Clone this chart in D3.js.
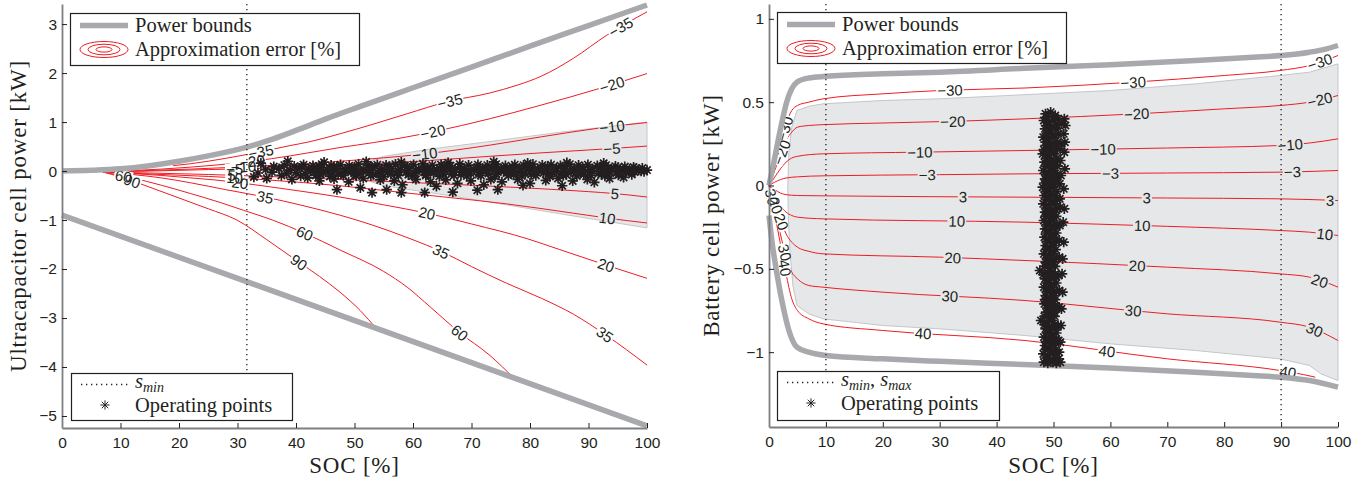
<!DOCTYPE html>
<html>
<head>
<meta charset="utf-8">
<script src="https://cdn.jsdelivr.net/npm/d3@7"></script>
<style>
  body { margin: 0; background: #fff; }
  svg { display: block; }
</style>
</head>
<body>
<svg id="chart" width="1370" height="486"></svg>
<script>
// ---- shared ticks ----
const socTicks = [0, 10, 20, 30, 40, 50, 60, 70, 80, 90, 100];
const ucapTicks = [-5, -4, -3, -2, -1, 0, 1, 2, 3];
const battTicks = [-1, -0.5, 0, 0.5, 1];

// ---- ultracapacitor panel (SOC %, kW) ----
const ucapUpperBound = [[0,0],[5,0.015],[10,0.045],[15,0.11],[20,0.2],[25,0.31],[31.6,0.49],[36,0.65],[40.7,0.86],[45,1.06],[51,1.32],[60,1.7],[70,2.12],[80,2.55],[90,2.97],[100,3.39]];
const ucapLowerBound = [[0,-0.9],[100,-5.2]];
const ucapShade = [[48,0.02],[55,0.3],[63,0.45],[73,0.6],[85,0.79],[100,1.0],[100,-1.16],[85,-0.87],[72,-0.61],[63.4,-0.45],[55,-0.3],[48,-0.04]];
const ucapSmin = 31.6;

const ucapErrM35 = [[19,0.11],[22,0.15],[28,0.26],[33.8,0.39],[39,0.52],[42.4,0.6],[47.5,0.76],[53,0.95],[59,1.17],[66,1.42],[73,1.59],[78,1.76],[82,1.94],[87.4,2.3],[93.2,2.78],[100,3.25]];
const ucapErrM20 = [[7,-0.02],[12,0.01],[17,0.04],[22,0.08],[27,0.13],[32.6,0.2],[39,0.31],[47.5,0.48],[53.2,0.58],[63.4,0.8],[73.2,1.07],[81.7,1.34],[92,1.69],[100,1.99]];
const ucapErrM10 = [[7,-0.02],[12,0],[17,0.02],[22,0.04],[28,0.07],[33,0.1],[39,0.13],[47.5,0.2],[55,0.27],[62,0.35],[73.2,0.53],[82,0.7],[92,0.88],[100,0.99]];
const ucapErrM5 = [[7,-0.02],[15,0],[25,0.03],[35,0.06],[47.5,0.12],[55,0.16],[64.6,0.23],[73,0.3],[81.7,0.37],[90,0.43],[94,0.46],[100,0.51]];
const ucapErr5 = [[7,-0.02],[15,-0.04],[25,-0.07],[35,-0.11],[47.5,-0.17],[55,-0.21],[64.6,-0.26],[72,-0.3],[81.7,-0.36],[90,-0.42],[94.5,-0.46],[100,-0.53]];
const ucapErr10 = [[7,-0.02],[15,-0.06],[25,-0.11],[30,-0.14],[35,-0.18],[47.5,-0.3],[56,-0.41],[64.6,-0.52],[76,-0.67],[87.4,-0.86],[93.2,-0.96],[100,-1.06]];
const ucapErr20 = [[7,-0.02],[12,-0.05],[17,-0.09],[22,-0.14],[26,-0.18],[30.4,-0.24],[39,-0.38],[47.5,-0.53],[55,-0.69],[62.4,-0.86],[70,-1.08],[79.5,-1.38],[85,-1.6],[93,-1.92],[100,-2.19]];
const ucapErr35 = [[7,-0.02],[12,-0.07],[17,-0.14],[22,-0.24],[28,-0.38],[34.7,-0.53],[41,-0.7],[47.5,-0.9],[53,-1.1],[59.5,-1.38],[65,-1.65],[70,-1.95],[76,-2.29],[82,-2.6],[87.4,-2.92],[93,-3.35],[100,-3.96]];
const ucapErr60 = [[7,-0.02],[12,-0.14],[17,-0.29],[22,-0.46],[27,-0.64],[31,-0.8],[36,-1.0],[41.5,-1.27],[47.5,-1.61],[55,-2.05],[59,-2.37],[63,-2.78],[68,-3.3],[73,-3.75],[77.2,-4.22]];
const ucapErr90 = [[7,-0.02],[10,-0.12],[15,-0.33],[20,-0.55],[25,-0.77],[29.9,-1.0],[35,-1.4],[40.5,-1.86],[44,-2.15],[47.5,-2.47],[51,-2.85],[53.7,-3.21]];

// [error level, SOC where the inline label sits]
const ucapLabels = [[-35,34],[-35,66.3],[-35,95.5],[-20,32.5],[-20,63.4],[-20,94],[-10,31],[-10,62],[-10,94],[-5,29.5],[-5,94],[5,29],[5,94.5],[10,29.5],[10,93.2],[20,30.4],[20,62.4],[20,93],[35,34.7],[35,64.8],[35,92.8],[60,10.5],[60,41.5],[60,68],[90,12],[90,40.5]];

const ucapPoints = [
  [36.2,0.09],[38.0,0.12],[39.7,0.10],[41.3,0.13],[42.9,0.11],[44.4,0.14],[46.0,0.12],[47.6,0.13],[49.1,0.11],[50.7,0.14],[52.3,0.12],[53.9,0.13],[55.4,0.12],[57.0,0.14],[58.6,0.11],[60.1,0.13],[61.7,0.15],[63.3,0.12],[64.8,0.13],[66.4,0.11],[68.0,0.14],[69.5,0.12],[71.1,0.13],[72.7,0.12],[74.2,0.14],[75.8,0.11],[77.4,0.13],[78.9,0.12],[80.5,0.14],[82.1,0.12],[83.6,0.13],[85.2,0.11],[86.8,0.14],[88.3,0.12],[89.9,0.13],[91.5,0.11],[93.0,0.12],[94.6,0.10],[96.2,0.09],[97.7,0.08],[99.2,0.06],
  [41.0,0.085],[44.0,0.08],[47.0,0.09],[50.0,0.085],[53.0,0.08],[56.0,0.09],[59.0,0.085],[62.0,0.08],[65.0,0.09],[68.0,0.085],[71.0,0.08],[74.0,0.09],[77.0,0.085],[80.0,0.08],[83.0,0.09],[86.0,0.085],[89.0,0.08],[92.0,0.085],[95.0,0.07],[98.0,0.05],
  [34.8,0.03],[37.1,0.05],[39.0,0.02],[40.6,0.06],[42.2,0.04],[43.7,0.05],[45.3,0.03],[46.9,0.06],[48.4,0.04],[50.0,0.05],[51.6,0.03],[53.1,0.06],[54.7,0.04],[56.3,0.05],[57.8,0.03],[59.4,0.06],[61.0,0.04],[62.5,0.05],[64.1,0.03],[65.7,0.06],[67.2,0.04],[68.8,0.05],[70.4,0.03],[71.9,0.06],[73.5,0.04],[75.1,0.05],[76.6,0.03],[78.2,0.06],[79.8,0.04],[81.3,0.05],[82.9,0.03],[84.5,0.06],[86.0,0.04],[87.6,0.05],[89.2,0.03],[90.7,0.05],[92.3,0.04],[93.9,0.05],[95.4,0.03],[97.0,0.04],[98.6,0.02],[100.0,0.02],
  [42.5,0.0],[45.5,0.005],[48.5,-0.005],[51.5,0.0],[54.5,0.005],[57.5,-0.005],[60.5,0.0],[63.5,0.005],[66.5,-0.005],[69.5,0.0],[72.5,0.005],[75.5,-0.005],[78.5,0.0],[81.5,0.005],[84.5,-0.005],[87.5,0.0],[90.5,0.005],[93.5,-0.005],[96.5,0.0],[99.0,0.0],
  [33.5,-0.04],[35.9,-0.02],[38.4,-0.05],[40.0,-0.03],[41.6,-0.05],[43.1,-0.02],[44.7,-0.04],[46.3,-0.03],[47.8,-0.05],[49.4,-0.02],[51.0,-0.04],[52.5,-0.03],[54.1,-0.05],[55.7,-0.02],[57.2,-0.04],[58.8,-0.03],[60.4,-0.05],[61.9,-0.02],[63.5,-0.04],[65.1,-0.03],[66.6,-0.05],[68.2,-0.02],[69.8,-0.04],[71.3,-0.03],[72.9,-0.05],[74.5,-0.02],[76.0,-0.04],[77.6,-0.03],[79.2,-0.05],[80.7,-0.02],[82.3,-0.04],[83.9,-0.03],[85.4,-0.05],[87.0,-0.02],[88.6,-0.04],[90.1,-0.03],[91.7,-0.05],[93.3,-0.02],[94.8,-0.04],[96.4,-0.03],[97.9,-0.02],[99.5,-0.01],
  [44.2,-0.07],[47.2,-0.065],[50.2,-0.075],[53.2,-0.07],[56.2,-0.065],[59.2,-0.075],[62.2,-0.07],[65.2,-0.065],[68.2,-0.075],[71.2,-0.07],[74.2,-0.065],[77.2,-0.075],[80.2,-0.07],[83.2,-0.065],[86.2,-0.075],[89.2,-0.07],[92.2,-0.065],[95.2,-0.06],
  [37.5,-0.09],[40.8,-0.10],[43.4,-0.09],[45.8,-0.11],[48.1,-0.09],[50.3,-0.10],[52.8,-0.09],[55.0,-0.11],[57.5,-0.09],[59.9,-0.10],[62.2,-0.09],[64.5,-0.11],[67.0,-0.09],[69.2,-0.10],[71.6,-0.09],[74.0,-0.11],[76.3,-0.09],[78.6,-0.10],[81.0,-0.09],[83.4,-0.11],[85.7,-0.09],[88.0,-0.10],[90.4,-0.09],[92.8,-0.10],[95.1,-0.08],[97.4,-0.07],
  [32.8,-0.12],[35.0,-0.15],[39.3,-0.17],[42.0,-0.14],[44.0,-0.2],[46.5,-0.16],[47.0,-0.38],[49.0,-0.22],[51.0,-0.34],[51.5,-0.15],[53.0,-0.44],[54.4,-0.18],[55.5,-0.38],[56.8,-0.2],[58.0,-0.44],[58.2,-0.28],[60.5,-0.17],[62.0,-0.44],[63.0,-0.22],[64.0,-0.31],[65.6,-0.18],[66.8,-0.43],[67.6,-0.25],[69.9,-0.2],[71.0,-0.39],[72.1,-0.28],[73.3,-0.17],[74.5,-0.38],[75.2,-0.22],[77.9,-0.17],[78.8,-0.29],[80.0,-0.25],[82.7,-0.19],[84.8,-0.15],[85.5,-0.3],[87.3,-0.2],[89.8,-0.17],[91.0,-0.23],[93.6,-0.15],[96.0,-0.13],
  [34.0,0.16],[38.6,0.2],[44.8,0.18],[52.0,0.19],[58.0,0.18],[66.0,0.17],[73.8,0.19],[79.6,0.16],[86.3,0.17],[92.6,0.16]
];

// ---- battery panel (SOC %, kW) ----
const battUpperBound = [[0,0],[0.8,0.13],[1.6,0.27],[2.4,0.4],[3.1,0.5],[4,0.58],[4.9,0.62],[7,0.645],[10,0.655],[20,0.67],[30,0.68],[46,0.705],[60,0.725],[75,0.75],[85,0.77],[90,0.78],[95,0.8],[98,0.82],[100,0.84]];
const battLowerBound = [[0,-0.18],[0.5,-0.33],[1.5,-0.55],[2.5,-0.73],[3.5,-0.87],[4.9,-0.97],[7,-1.0],[10,-1.02],[20,-1.04],[30,-1.055],[46,-1.075],[60,-1.095],[75,-1.12],[85,-1.14],[90,-1.15],[95,-1.17],[100,-1.21]];
const battShade = [[4.9,0.45],[7,0.475],[9.5,0.49],[20,0.51],[30,0.52],[45,0.545],[60,0.57],[75,0.61],[89.8,0.66],[95,0.68],[97,0.7],[100,0.73],[100,-1.17],[97,-1.13],[95,-1.08],[89.8,-1.04],[75,-0.99],[60,-0.95],[45,-0.9],[30,-0.86],[20,-0.84],[9.5,-0.8],[7,-0.77],[4.9,-0.72],[4.2,-0.6],[3.7,-0.4],[3.4,-0.2],[3.3,0],[3.5,0.2],[4,0.35]];
const battSmin = 10;
const battSmax = 90;

const battErrM30 = [[0,0],[1,0.12],[2,0.25],[3,0.37],[4,0.45],[5,0.48],[7,0.5],[9.5,0.52],[20,0.55],[30,0.57],[45,0.585],[64,0.62],[80,0.66],[89.8,0.69],[95,0.72],[100,0.78]];
const battErrM20 = [[0,0],[1,0.09],[2,0.18],[3,0.27],[4,0.32],[5,0.35],[7,0.36],[9.5,0.365],[20,0.375],[32.3,0.385],[45,0.4],[64.6,0.43],[80,0.46],[89.8,0.48],[95,0.5],[100,0.54]];
const battErrM10 = [[0,0],[1,0.05],[2,0.1],[3,0.14],[4,0.165],[5,0.175],[9.5,0.19],[26.5,0.2],[45,0.21],[70,0.225],[89.8,0.24],[95,0.255],[100,0.28]];
const battErrM3 = [[0,0],[1,0.02],[2,0.035],[3,0.045],[5,0.052],[9.5,0.058],[30,0.065],[45,0.07],[70,0.075],[89.8,0.08],[100,0.09]];
const battErr3 = [[0,0],[1,-0.025],[2,-0.045],[3,-0.055],[5,-0.06],[9.5,-0.062],[45,-0.07],[70,-0.075],[89.8,-0.08],[100,-0.09]];
const battErr10 = [[0,0],[1,-0.06],[2,-0.12],[3,-0.16],[4,-0.18],[5,-0.19],[9.5,-0.2],[45,-0.22],[70,-0.245],[89.8,-0.27],[95,-0.28],[100,-0.3]];
const battErr20 = [[0,0],[1,-0.1],[2,-0.2],[3,-0.29],[4,-0.34],[5,-0.37],[7,-0.395],[9.5,-0.41],[30,-0.43],[45,-0.45],[70,-0.49],[89.8,-0.53],[95,-0.55],[100,-0.61]];
const battErr30 = [[0,0],[1,-0.14],[2,-0.29],[3,-0.43],[4,-0.52],[5,-0.56],[7,-0.6],[9.5,-0.61],[20,-0.64],[45,-0.69],[70,-0.77],[89.8,-0.82],[95,-0.85],[100,-0.93]];
const battErr40 = [[0,0],[1,-0.17],[2,-0.35],[3,-0.53],[4,-0.68],[5,-0.75],[7,-0.8],[9.5,-0.83],[20,-0.87],[45,-0.93],[70,-1.04],[89.8,-1.11],[94,-1.135],[96,-1.15]];

const battLabels = [[-30,2.75],[-30,31.8],[-30,64],[-30,96.8],[-20,2.2],[-20,32.3],[-20,64.6],[-20,96.8],[-10,26.5],[-10,58.7],[-10,91.6],[-3,27.8],[-3,60],[-3,92],[3,34.1],[3,66.4],[3,98.6],[10,33],[10,65.6],[10,97.7],[20,1.2],[20,2.2],[20,32.3],[20,64.7],[20,96.8],[30,0.5],[30,2.8],[30,31.8],[30,64],[30,95.9],[40,2.8],[40,27.1],[40,59.4],[40,91.2]];

const battPoints = [
  [48.6,0.43],[49.5,0.44],[50.3,0.42],[51.9,0.40],
  [48.9,0.41],[49.9,0.41],[50.8,0.40],
  [48.3,0.39],[49.2,0.38],[50.1,0.39],[52.1,0.36],
  [48.7,0.36],[49.7,0.355],[50.7,0.36],[51.4,0.37],
  [48.5,0.34],[49.4,0.33],[50.4,0.34],[51.8,0.31],
  [48.8,0.31],[49.8,0.305],[50.9,0.31],
  [48.2,0.29],[49.1,0.28],[50.2,0.29],[52.0,0.26],
  [48.6,0.26],[49.6,0.255],[50.7,0.26],[51.3,0.25],
  [48.6,0.24],[49.5,0.23],[50.5,0.24],
  [48.3,0.215],[49.3,0.205],[50.3,0.21],[51.2,0.22],
  [48.1,0.19],[49.0,0.18],[50.0,0.19],[51.9,0.20],
  [48.7,0.165],[49.6,0.155],[50.6,0.165],
  [48.4,0.14],[49.3,0.13],[50.3,0.14],[51.2,0.15],
  [48.6,0.115],[49.7,0.105],[50.7,0.115],
  [48.2,0.09],[49.1,0.08],[50.1,0.09],[52.0,0.10],
  [48.7,0.065],[49.7,0.055],[50.6,0.065],[51.3,0.06],
  [48.5,0.04],[49.4,0.03],[50.4,0.04],
  [48.4,0.015],[49.4,0.005],[50.4,0.015],[51.1,0.01],
  [48.1,-0.01],[49.0,-0.02],[50.0,-0.01],[51.8,-0.02],
  [48.6,-0.035],[49.6,-0.045],[50.6,-0.035],
  [48.4,-0.06],[49.3,-0.07],[50.3,-0.06],[51.1,-0.08],
  [48.7,-0.085],[49.7,-0.095],[50.7,-0.085],
  [48.2,-0.11],[49.1,-0.12],[50.1,-0.11],[51.9,-0.14],
  [48.7,-0.135],[49.7,-0.145],[50.6,-0.135],[51.2,-0.13],
  [48.5,-0.16],[49.4,-0.17],[50.2,-0.16],
  [48.6,-0.185],[49.6,-0.195],[50.5,-0.185],
  [48.3,-0.21],[49.2,-0.22],[50.0,-0.21],[51.7,-0.22],
  [48.8,-0.235],[49.7,-0.245],[50.6,-0.235],[51.1,-0.24],
  [48.5,-0.26],[49.3,-0.27],[50.2,-0.26],
  [48.7,-0.285],[49.6,-0.295],[50.5,-0.285],
  [48.4,-0.31],[49.2,-0.32],[50.0,-0.31],[51.8,-0.34],
  [48.8,-0.335],[49.7,-0.345],[50.5,-0.335],[51.0,-0.33],
  [48.6,-0.36],[49.4,-0.37],[50.1,-0.36],
  [48.7,-0.385],[49.6,-0.395],[50.4,-0.385],
  [48.3,-0.41],[49.1,-0.42],[49.9,-0.41],[51.6,-0.44],
  [48.8,-0.435],[49.7,-0.445],[50.5,-0.435],[51.0,-0.43],
  [48.6,-0.46],[49.4,-0.47],[50.1,-0.46],
  [48.5,-0.485],[49.4,-0.495],[50.3,-0.485],
  [47.6,-0.51],[48.9,-0.52],[49.7,-0.52],[51.5,-0.53],
  [48.2,-0.535],[49.2,-0.545],[50.2,-0.535],[50.9,-0.54],
  [48.5,-0.56],[49.3,-0.57],[50.1,-0.56],
  [48.7,-0.585],[49.6,-0.595],[50.5,-0.585],
  [48.3,-0.61],[49.1,-0.62],[49.9,-0.61],[51.6,-0.64],
  [48.8,-0.635],[49.7,-0.645],[50.5,-0.635],[51.0,-0.63],
  [48.6,-0.66],[49.4,-0.67],[50.2,-0.66],
  [48.5,-0.685],[49.4,-0.695],[50.3,-0.685],
  [48.4,-0.71],[49.2,-0.72],[50.0,-0.71],[51.4,-0.74],
  [48.9,-0.735],[49.8,-0.745],[50.6,-0.735],[51.0,-0.73],
  [48.7,-0.76],[49.5,-0.77],[50.2,-0.76],
  [48.4,-0.785],[49.3,-0.795],[50.2,-0.785],
  [47.8,-0.81],[48.9,-0.82],[49.7,-0.81],[51.3,-0.84],
  [48.4,-0.835],[49.3,-0.845],[50.2,-0.835],[50.8,-0.84],
  [48.6,-0.86],[49.4,-0.87],[50.2,-0.86],
  [48.8,-0.885],[49.7,-0.895],[50.5,-0.885],
  [48.3,-0.91],[49.1,-0.92],[49.9,-0.91],[51.2,-0.94],
  [48.7,-0.935],[49.6,-0.945],[50.4,-0.935],[50.9,-0.93],
  [48.5,-0.96],[49.3,-0.97],[50.1,-0.96],
  [48.6,-0.985],[49.5,-0.995],[50.4,-0.985],
  [48.2,-1.01],[49.0,-1.02],[49.8,-1.01],[51.0,-1.00],
  [48.6,-1.035],[49.4,-1.045],[50.3,-1.035],[50.9,-1.04],
  [48.3,-1.06],[49.0,-1.065],[49.8,-1.06],[50.5,-1.065],[51.2,-1.06]
];

// ---- drawing ----
const W = 1370, H = 486;
const ink = '#231f20';
const red = '#ed1c24';
const boundGray = '#a7a9ac';
const sans = '"Liberation Sans", Arial, Helvetica, sans-serif';
const serif = '"Liberation Serif", "Times New Roman", serif';

const svg = d3.select('#chart');
const defs = svg.append('defs');

function at(pts, s) {
  if (s <= pts[0][0]) return pts[0][1];
  for (let i = 1; i < pts.length; i++) {
    if (s <= pts[i][0]) {
      const t = (s - pts[i - 1][0]) / (pts[i][0] - pts[i - 1][0]);
      return pts[i - 1][1] + t * (pts[i][1] - pts[i - 1][1]);
    }
  }
  return pts[pts.length - 1][1];
}

function star(r) {
  const a = r * 0.7071;
  return `M${-r},0H${r}M0,${-r}V${r}M${-a},${-a}L${a},${a}M${-a},${a}L${a},${-a}`;
}

function levelText(v) {
  return v < 0 ? '\u2212' + Math.abs(v) : String(v);
}

function drawPanel(cfg) {
  const x = d3.scaleLinear().domain([0, 100]).range(cfg.xRange);
  const y = d3.scaleLinear().domain(cfg.yDomain).range([cfg.yBottom, cfg.yTop]);
  const smooth = d3.line().x(d => x(d[0])).y(d => y(d[1])).curve(d3.curveMonotoneX);
  const poly = d3.line().x(d => x(d[0])).y(d => y(d[1]));
  const g = svg.append('g');

  // shaded region
  g.append('path')
    .attr('d', poly(cfg.shade) + 'Z')
    .attr('fill', '#e6e7e8')
    .attr('stroke', '#c4c6c8')
    .attr('stroke-width', 1);

  // contour lines, broken where labels sit
  const maskId = cfg.id + '-mask';
  const mask = defs.append('mask').attr('id', maskId)
    .attr('maskUnits', 'userSpaceOnUse')
    .attr('x', 0).attr('y', 0).attr('width', W).attr('height', H);
  mask.append('rect').attr('width', W).attr('height', H).attr('fill', '#fff');

  const cg = g.append('g').attr('mask', `url(#${maskId})`);
  cfg.contours.forEach(([lev, pts]) => {
    cg.append('path')
      .attr('d', smooth(pts))
      .attr('fill', 'none')
      .attr('stroke', red)
      .attr('stroke-width', 1);
  });

  const lg = g.append('g')
    .attr('font-family', sans)
    .attr('font-size', 15)
    .attr('fill', ink);
  cfg.labels.forEach(([lev, s]) => {
    const pts = cfg.contours.find(c => c[0] === lev)[1];
    const d = s < 6 ? 0.3 : 1.5;
    const x0 = x(s - d), y0 = y(at(pts, s - d));
    const x1 = x(s + d), y1 = y(at(pts, s + d));
    let ang = Math.atan2(y1 - y0, x1 - x0) * 180 / Math.PI;
    if (ang > 90) ang -= 180;
    if (ang < -90) ang += 180;
    const tr = `translate(${x(s)},${y(at(pts, s))}) rotate(${ang})`;
    const t = lg.append('text')
      .attr('transform', tr)
      .attr('text-anchor', 'middle')
      .attr('dominant-baseline', 'central')
      .text(levelText(lev));
    const bb = t.node().getBBox();
    mask.append('rect')
      .attr('transform', tr)
      .attr('x', bb.x - 1).attr('y', -5.5)
      .attr('width', bb.width + 2).attr('height', 11)
      .attr('fill', '#000');
  });

  // power bounds
  [cfg.upper, cfg.lower].forEach(b => {
    g.append('path')
      .attr('d', smooth(b))
      .attr('fill', 'none')
      .attr('stroke', boundGray)
      .attr('stroke-width', 5.5);
  });

  // SOC limits
  cfg.dotted.forEach(s => {
    g.append('line')
      .attr('x1', x(s)).attr('x2', x(s))
      .attr('y1', cfg.yTop).attr('y2', cfg.yBottom - 6)
      .attr('stroke', ink)
      .attr('stroke-width', 1.3)
      .attr('stroke-dasharray', '1.3 3.7');
  });

  // operating points
  g.append('g').selectAll('path')
    .data(cfg.points)
    .join('path')
    .attr('transform', d => `translate(${x(d[0])},${y(d[1])})`)
    .attr('d', star(5.2))
    .attr('fill', 'none')
    .attr('stroke', ink)
    .attr('stroke-width', 1.7);

  // axes
  const fmt = d3.format('~g');
  const ax = g.append('g')
    .attr('transform', `translate(0,${cfg.yBottom})`)
    .call(d3.axisBottom(x).tickValues(socTicks).tickSizeInner(-5).tickSizeOuter(0).tickPadding(9).tickFormat(fmt));
  const ay = g.append('g')
    .attr('transform', `translate(${cfg.xRange[0]},0)`)
    .call(d3.axisLeft(y).tickValues(cfg.yTicks).tickSizeInner(-5).tickSizeOuter(0).tickPadding(5).tickFormat(fmt));
  [ax, ay].forEach(a => {
    a.attr('font-family', sans).attr('font-size', 15.5);
    a.select('.domain').attr('stroke', '#7d7f82').attr('stroke-width', 1.8);
    a.selectAll('.tick line').attr('stroke', ink);
    a.selectAll('.tick text').attr('fill', ink);
  });

  // axis titles
  const midX = (cfg.xRange[0] + cfg.xRange[1]) / 2;
  g.append('text')
    .attr('x', midX).attr('y', 473)
    .attr('text-anchor', 'middle')
    .attr('font-family', serif).attr('font-size', 23)
    .attr('letter-spacing', 0.8)
    .attr('fill', ink)
    .text('SOC [%]');
  g.append('text')
    .attr('transform', `translate(${cfg.yTitleX},${(cfg.yTop + cfg.yBottom) / 2}) rotate(-90)`)
    .attr('text-anchor', 'middle')
    .attr('font-family', serif).attr('font-size', 23)
    .attr('letter-spacing', 0.8)
    .attr('fill', ink)
    .text(cfg.yTitle);

  // legends
  const legFont = (sel) => sel.attr('font-family', serif).attr('font-size', 20.5).attr('fill', ink);
  const lt = cfg.legendTop;
  const L1 = g.append('g');
  L1.append('rect').attr('x', lt[0] + 0.5).attr('y', lt[1] + 0.5).attr('width', lt[2]).attr('height', lt[3])
    .attr('fill', '#fff').attr('stroke', ink).attr('stroke-width', 1.2);
  L1.append('line').attr('x1', lt[0] + 10).attr('x2', lt[0] + 58)
    .attr('y1', lt[1] + 12.5).attr('y2', lt[1] + 12.5)
    .attr('stroke', boundGray).attr('stroke-width', 5.5);
  L1.append('text').attr('x', lt[0] + 65).attr('y', lt[1] + 18.5).call(legFont).text('Power bounds');
  [[24, 8], [16, 5.3], [8, 2.6]].forEach(([rx, ry]) => {
    L1.append('ellipse').attr('cx', lt[0] + 34).attr('cy', lt[1] + 36.5)
      .attr('rx', rx).attr('ry', ry)
      .attr('fill', 'none').attr('stroke', red).attr('stroke-width', 1);
  });
  L1.append('text').attr('x', lt[0] + 65).attr('y', lt[1] + 42.5).call(legFont).text('Approximation error [%]');

  const lb = cfg.legendBottom;
  const L2 = g.append('g');
  L2.append('rect').attr('x', lb[0] + 0.5).attr('y', lb[1] + 0.5).attr('width', lb[2]).attr('height', lb[3])
    .attr('fill', '#fff').attr('stroke', ink).attr('stroke-width', 1.2);
  L2.append('line').attr('x1', lb[0] + 10).attr('x2', lb[0] + 57)
    .attr('y1', lb[1] + 11.5).attr('y2', lb[1] + 11.5)
    .attr('stroke', ink).attr('stroke-width', 1.3).attr('stroke-dasharray', '1.3 3.7');
  const st = L2.append('text').attr('x', lb[0] + 64).attr('y', lb[1] + 15).call(legFont);
  cfg.sNames.forEach((nm, i) => {
    if (i > 0) st.append('tspan').attr('dy', -4).text(', ');
    st.append('tspan').attr('font-style', 'italic').text('s');
    st.append('tspan').attr('font-style', 'italic').attr('font-size', 14).attr('dy', 4).text(nm);
  });
  L2.append('path').attr('transform', `translate(${lb[0] + 34},${lb[1] + 32})`)
    .attr('d', star(4.6)).attr('fill', 'none').attr('stroke', ink).attr('stroke-width', 1);
  L2.append('text').attr('x', lb[0] + 64).attr('y', lb[1] + 38.5).call(legFont).text('Operating points');
}

drawPanel({
  id: 'ucap',
  xRange: [62, 647],
  yDomain: [-5.245, 3.41],
  yTop: 4, yBottom: 428,
  yTicks: ucapTicks,
  shade: ucapShade,
  contours: [[-35, ucapErrM35], [-20, ucapErrM20], [-10, ucapErrM10], [-5, ucapErrM5], [5, ucapErr5], [10, ucapErr10], [20, ucapErr20], [35, ucapErr35], [60, ucapErr60], [90, ucapErr90]],
  labels: ucapLabels,
  upper: ucapUpperBound,
  lower: ucapLowerBound,
  dotted: [ucapSmin],
  points: ucapPoints,
  yTitle: 'Ultracapacitor cell power [kW]',
  yTitleX: 26,
  legendTop: [70, 13, 289, 52],
  legendBottom: [71, 373, 221, 47],
  sNames: ['min']
});

drawPanel({
  id: 'batt',
  xRange: [769, 1338],
  yDomain: [-1.449, 1.089],
  yTop: 4, yBottom: 427,
  yTicks: battTicks,
  shade: battShade,
  contours: [[-30, battErrM30], [-20, battErrM20], [-10, battErrM10], [-3, battErrM3], [3, battErr3], [10, battErr10], [20, battErr20], [30, battErr30], [40, battErr40]],
  labels: battLabels,
  upper: battUpperBound,
  lower: battLowerBound,
  dotted: [battSmin, battSmax],
  points: battPoints,
  yTitle: 'Battery cell power [kW]',
  yTitleX: 719,
  legendTop: [777, 12, 289, 51],
  legendBottom: [777, 371, 222, 49],
  sNames: ['min', 'max']
});
</script>
</body>
</html>
